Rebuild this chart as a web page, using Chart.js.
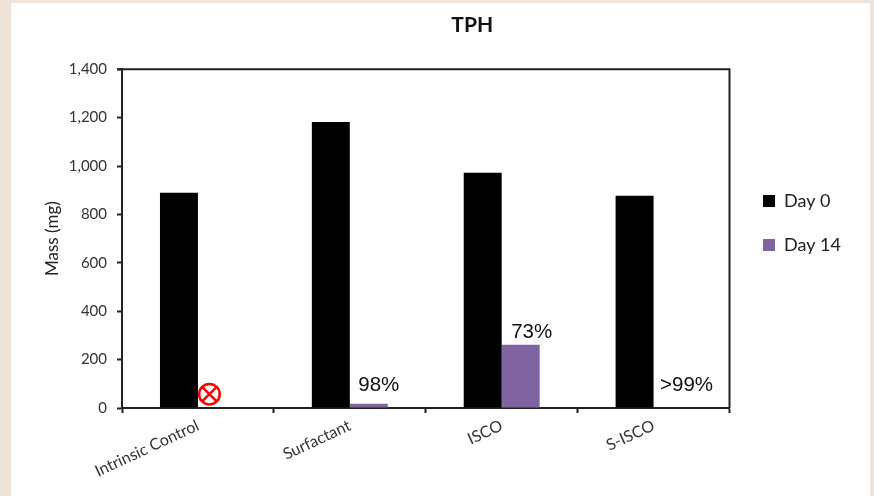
<!DOCTYPE html>
<html>
<head>
<meta charset="utf-8">
<title>TPH</title>
<script src="https://cdn.jsdelivr.net/npm/chart.js@4/dist/chart.umd.min.js"></script>
<style>
    html, body { margin: 0; height: 100%; overflow: hidden; background: #efe3da; }
    #tphChart { position: absolute; left: 11px; top: 3px; background: #fff; }
</style>
</head>
<body>
<canvas id="tphChart" width="859" height="493"></canvas>
<script>
const categories = ['Intrinsic Control', 'Surfactant', 'ISCO', 'S-ISCO'];
const day0 = [889, 1182, 972, 877];
const day14 = [null, 18, 261, null];
const removalLabels = [null, '98%', '73%', '>99%'];
const notTestedValue = 57;

const axisFont = 'Lato, "Open Sans", sans-serif';
const axisColor = '#222';

// title and legend don't sit where the layout puts them, so move them after layout
const placeBoxes = {
    id: 'placeBoxes',
    afterLayout(chart) {
        chart.titleBlock.right += 204;
        const legend = chart.legend;
        const h = legend.bottom - legend.top;
        legend.left = 726;
        legend.right = 851;
        legend.top = 220 - h / 2;
        legend.bottom = legend.top + h;
    }
};

// percent removal text next to the Day 14 bars, red marker on the control
const annotations = {
    id: 'annotations',
    afterDatasetsDraw(chart) {
        const { ctx, scales: { y } } = chart;
        const bars = chart.getDatasetMeta(1).data;
        const offsets = [null, { x: 10, y: 18 }, { x: 11, y: 12 }, { x: 14, y: 23 }];

        ctx.save();
        ctx.font = '20.5px "Liberation Sans", Arial, sans-serif';
        ctx.fillStyle = '#111';
        ctx.textAlign = 'center';
        ctx.textBaseline = 'middle';
        removalLabels.forEach((label, i) => {
            if (!label) return;
            const base = y.getPixelForValue(day14[i] || 0);
            ctx.fillText(label, bars[i].x + offsets[i].x, base - offsets[i].y);
        });

        // circled x
        const cx = bars[0].x - 7.5;
        const cy = y.getPixelForValue(notTestedValue);
        const r = 10.3;
        const d = r * Math.SQRT1_2;
        ctx.strokeStyle = '#ff0000';
        ctx.lineWidth = 2.5;
        ctx.beginPath();
        ctx.arc(cx, cy, r, 0, Math.PI * 2);
        ctx.moveTo(cx - d, cy - d);
        ctx.lineTo(cx + d, cy + d);
        ctx.moveTo(cx + d, cy - d);
        ctx.lineTo(cx - d, cy + d);
        ctx.stroke();
        ctx.restore();
    }
};

// closes the plot box on the top and right
const plotFrame = {
    id: 'plotFrame',
    afterDraw(chart) {
        const { ctx, chartArea: a } = chart;
        ctx.save();
        ctx.strokeStyle = axisColor;
        ctx.lineWidth = 2;
        ctx.beginPath();
        ctx.moveTo(a.left - 5, a.top);
        ctx.lineTo(a.right, a.top);
        ctx.lineTo(a.right, a.bottom);
        ctx.stroke();
        ctx.restore();
    }
};

new Chart(document.getElementById('tphChart'), {
    type: 'bar',
    data: {
        labels: categories,
        datasets: [
            { label: 'Day 0', data: day0, backgroundColor: '#000000' },
            { label: 'Day 14', data: day14, backgroundColor: '#8064a2' }
        ]
    },
    options: {
        responsive: false,
        animation: false,
        categoryPercentage: 0.5,
        barPercentage: 1,
        layout: { padding: { left: 0, right: 140.5, top: 0, bottom: 0 } },
        scales: {
            x: {
                afterFit: scale => { scale.height = 88; },
                border: { color: axisColor, width: 2 },
                grid: { drawOnChartArea: false, tickLength: 5, tickColor: axisColor, tickWidth: 2 },
                ticks: {
                    minRotation: 25,
                    maxRotation: 25,
                    padding: 3,
                    color: '#333',
                    font: { family: axisFont, size: 16 }
                }
            },
            y: {
                min: 0,
                max: 1400,
                afterFit: scale => { scale.width = 111; },
                border: { color: axisColor, width: 2 },
                grid: { drawOnChartArea: false, tickLength: 5, tickColor: axisColor, tickWidth: 2 },
                title: {
                    display: true,
                    text: 'Mass (mg)',
                    color: '#222',
                    padding: { top: 31, bottom: 0 },
                    font: { family: axisFont, size: 17 }
                },
                ticks: {
                    stepSize: 200,
                    padding: 10,
                    color: '#333',
                    font: { family: axisFont, size: 15 }
                }
            }
        },
        plugins: {
            title: {
                display: true,
                text: 'TPH',
                color: '#111',
                padding: { top: 10, bottom: 31 },
                font: { family: axisFont, size: 21, weight: 'bold' }
            },
            legend: {
                position: 'chartArea',
                labels: {
                    boxWidth: 12,
                    boxHeight: 12,
                    padding: 26,
                    color: '#222',
                    font: { family: axisFont, size: 18 }
                }
            },
            tooltip: { enabled: false }
        }
    },
    plugins: [placeBoxes, annotations, plotFrame]
});
</script>
</body>
</html>
